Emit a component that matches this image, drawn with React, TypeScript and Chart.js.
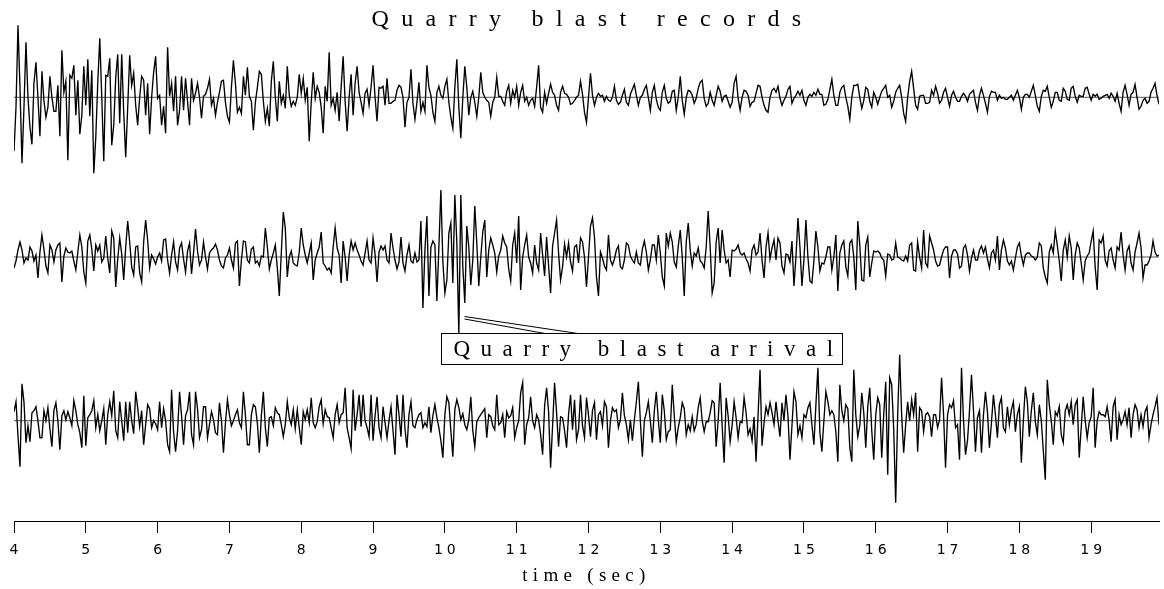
import React, { useEffect, useRef } from 'react';
import { Chart, registerables } from 'chart.js';

Chart.register(...registerables);

// ---- data -------------------------------------------------------------
const START_TIME = 4; // seconds
const SAMPLE_INTERVAL = 1 / 36; // seconds between samples
const TICK_STEP = 1; // seconds between axis ticks
const ARRIVAL_TIME = 10.26; // quarry blast arrival (sec)

const TITLE = 'Quarry blast records';
const X_LABEL = 'time (sec)';
const ANNOTATION = 'Quarry blast arrival';

// vertical position (plot units) of each record's zero line
const TRACE_OFFSETS = [-97.3, -257, -420.7];

const TRACE_1 = [
  -54,-10,72,10,-66,-10,55,0,-30,-47,
  14,35,0,-39,26,-3,-20,-10,21,0,
  -14,-14,12,-39,47,5,16,-63,22,19,
  32,-18,17,-37,-18,31,-8,38,-19,27,
  -76,-40,15,59,0,-64,22,21,39,-48,
  -28,20,43,-26,43,-15,-60,-10,42,12,
  24,-8,-28,0,21,17,-18,14,-37,0,
  25,41,-1,2,-28,-9,-36,50,1,14,
  -14,21,-28,-13,21,-13,19,-4,-28,19,
  -3,4,14,0,-21,1,3,9,18,-8,
  -1,-18,-5,5,16,17,-5,-19,-25,10,
  37,14,-15,-10,-16,21,2,30,1,-4,
  -33,-5,10,26,23,-4,-24,-11,-29,16,
  36,0,-24,16,-6,2,-11,31,2,-9,
  -4,-8,0,23,4,19,-3,10,-44,-5,
  25,-1,11,5,-10,-36,11,-4,45,-8,
  -1,-13,5,-24,10,41,-4,-34,0,23,
  -18,14,31,5,-5,-16,4,8,-8,10,
  32,0,-24,10,9,11,-8,19,-6,-6,
  -4,-3,7,
  12,10,0,-30,-5,0,28,-6,-22,-5,
  15,-14,-5,-14,32,10,2,-15,-24,5,
  11,2,-1,11,18,-5,-20,-31,10,38,
  -10,-41,0,31,10,-18,0,6,-5,-19,
  0,25,5,0,-3,-5,-19,-5,0,20,
  1,1,-4,-8,6,12,-6,7,0,11,
  -8,5,12,-4,0,-8,-3,-1,-9,10,
  32,-10,-15,5,-6,4,13,5,2,-8,
  -13,5,11,4,3,0,-7,-6,-3,0,
  2,16,3,-15,-25,0,24,2,-8,0,
  4,1,2,-4,1,-3,-4,0,11,-3,
  -7,-5,2,8,-5,-8,3,8,13,2,
  -8,0,2,8,12,0,-13,5,12,-2,
  -10,-13,5,12,-1,-6,-4,6,7,-13,
  0,21,-3,-17,0,7,6,2,-6,-1,
  9,15,17,-1,-9,-6,5,-3,-8,2,
  11,6,-4,1,2,-4,-10,-5,14,21,
  -1,-13,0,7,6,2,-9,-5,-4,4,
  12,11,0,-8,-13,-15,0,7,9,5,
  11,-1,-8,-3,1,
  8,11,-6,-1,2,6,2,7,-3,-8,
  0,3,1,5,2,8,3,3,-8,-7,
  -2,8,18,2,-8,-8,5,10,12,0,
  -9,-22,0,12,12,13,0,-11,-3,10,
  8,-4,-10,5,0,-7,0,6,9,12,
  0,2,-10,-4,5,9,12,0,-16,-24,
  0,16,26,9,-8,-12,1,2,2,-6,
  -6,-5,7,2,11,4,-6,-3,5,9,
  0,-9,2,6,0,-4,-4,1,4,1,
  -4,3,5,7,-5,-13,2,9,2,-6,
  -15,1,6,5,5,-3,2,-1,0,-2,
  -2,0,2,-3,2,7,0,-12,0,3,
  3,0,6,12,2,-9,-14,1,7,6,
  11,0,-10,-4,5,5,-3,-4,9,6,
  -2,-3,9,11,1,-5,2,1,1,9,
  10,3,-3,3,1,3,-2,-1,1,2,
  3,-1,4,1,-4,4,-6,-14,5,12,
  3,-8,3,5,13,0,-12,-9,-3,-1,
  -6,-4,5,9,14,2,-7
];

const TRACE_2 = [
  -11,-4,7,15,7,-6,-1,-3,10,6,
  -4,2,-21,5,22,8,-9,-16,12,7,
  -5,7,12,14,-25,1,9,5,4,6,
  -4,-13,5,22,10,-15,-26,16,22,8,
  -14,12,6,12,-5,-1,21,-1,-16,26,
  19,-30,-2,19,3,-23,10,36,15,-10,
  -18,10,11,-16,-25,15,37,17,-11,2,
  -2,-7,0,4,-4,17,18,-3,-16,2,
  15,-5,-13,9,14,-2,-15,6,14,-17,
  4,28,6,-8,-3,15,0,-12,4,7,
  9,13,7,-3,-9,-11,-1,2,9,-3,
  -11,14,16,-29,-3,16,15,-3,-6,8,
  10,-6,-4,-9,1,0,29,10,-12,-3,
  4,12,-11,-39,4,45,29,-20,0,6,
  -6,-8,-9,5,29,12,2,-6,4,14,
  -23,-3,4,10,25,-6,-9,-13,-11,-16,
  10,29,9,2,-26,16,0,-24,2,16,
  7,14,7,2,-4,-8,4,16,-3,-6,
  19,3,-25,5,11,7,11,-3,-6,24,
  9,-3,-12,
  -5,20,-6,-14,2,12,-4,-6,4,-5,
  -3,36,-51,7,41,-39,10,16,12,-44,
  10,67,-5,-36,-23,24,34,-26,62,14,
  -77,62,-10,-46,31,10,-28,-3,51,14,
  -29,0,25,37,-20,7,19,12,4,-15,
  1,7,21,14,10,-12,-24,12,24,-6,
  41,-33,0,12,22,0,-6,-16,12,-6,
  -13,24,2,-19,20,-9,-36,11,24,37,
  4,-23,-10,13,0,14,-5,-14,10,12,
  -6,19,15,0,-30,0,31,39,20,-20,
  -39,5,-1,-9,-13,22,-3,-8,-2,7,
  11,-10,-12,-3,14,12,1,-3,-6,5,
  -6,-8,8,16,5,-13,-3,12,12,-3,
  22,4,-20,-29,24,11,24,15,-5,-10,
  11,27,0,-39,15,34,7,-9,4,1,
  9,-4,-6,-11,10,46,10,-36,-26,15,
  29,-6,27,7,-6,-3,-20,7,6,8,
  12,4,2,4,-2,-6,-14,7,12,2,
  5,24,-3,-21,10,24,-2,9,17,-3,
  19,14,-9,-16,3,
  2,-5,16,-29,0,39,10,-29,-3,37,
  0,-24,-26,-4,26,10,-14,-6,-7,0,
  10,10,-13,0,22,-34,4,12,16,-10,
  -19,14,17,0,-33,36,12,-23,-24,12,
  20,-20,-6,6,5,6,4,-1,-3,-19,
  3,2,-3,-2,14,0,-1,-3,-4,1,
  -4,12,14,-13,-14,15,0,-11,27,-6,
  -10,21,14,7,-4,-9,-8,0,7,10,
  10,-21,1,7,7,3,-11,-9,9,12,
  2,-14,-1,7,-3,-3,7,11,4,10,
  -2,-11,4,7,-3,21,-13,7,17,9,
  -4,-8,-4,-13,-1,10,14,1,-8,2,
  4,4,1,0,-3,0,14,11,-11,-20,
  -26,5,12,4,26,12,-4,-24,7,17,
  0,21,9,-23,2,14,9,-6,-23,-4,
  1,4,16,26,-10,-33,17,14,21,-3,
  -9,6,9,-3,-11,10,7,25,2,-13,
  6,11,-6,-13,5,14,24,9,-21,-8,
  -8,-4,2,16,5,1,2
];

const TRACE_3 = [
  9,19,-15,-46,37,19,-22,-5,-21,8,
  10,14,0,-17,-17,10,0,13,-8,-26,
  10,18,0,-29,5,10,1,9,3,-5,
  20,10,-4,-12,-27,25,-25,3,6,10,
  20,-7,6,-10,0,12,-24,6,19,5,
  30,-10,-17,19,0,-20,19,-12,19,0,
  -13,29,13,-6,10,-24,-4,16,12,-7,
  0,-3,-9,19,-7,12,0,-24,-31,31,
  -11,-31,-10,29,5,-24,5,11,29,-14,
  -24,29,12,-17,-9,14,14,-17,-4,9,
  1,-12,-14,18,0,-32,-2,21,6,-5,
  0,6,11,-2,-7,29,6,-24,-24,6,
  16,14,-2,-32,5,29,-7,-26,3,4,
  -5,13,8,6,-4,-16,-4,19,3,-4,
  11,-8,11,-7,-24,9,1,11,-2,23,
  -2,-7,-1,14,21,-3,11,4,3,-7,
  -17,6,16,-2,6,8,33,-7,-17,-28,
  31,-10,6,26,-6,26,0,-7,-16,26,
  -20,5,24,-7,-17,14,-2,-17,0,14,
  -10,-34,26,
  6,-16,26,-8,-27,6,19,-5,-7,1,
  6,8,-7,-2,-6,14,-12,5,16,3,
  -7,-20,-37,6,24,18,-10,-36,11,21,
  13,1,7,-4,-9,1,24,-10,-26,-1,
  3,6,9,12,-17,6,4,-5,-9,26,
  -4,-2,6,-17,9,3,5,13,-17,-7,
  0,28,38,-24,-4,3,24,0,-7,6,
  1,-14,-34,15,33,9,-47,-5,38,8,
  -26,4,3,-10,-27,6,26,-9,21,-19,
  -9,26,-5,-17,23,6,-16,10,18,-19,
  6,9,-5,19,14,-27,0,13,9,11,
  -7,1,28,5,-4,-19,1,-20,1,19,
  39,0,-36,0,8,19,0,-22,10,29,
  1,-22,26,10,-19,-11,-9,36,5,-21,
  -7,3,18,12,-14,-4,-10,4,-10,-4,
  13,23,0,-11,-1,-1,8,20,18,-26,
  0,38,-5,-42,23,5,-21,-5,19,3,
  -17,-1,-2,23,8,-14,-8,-20,4,-41,
  5,51,-25,-2,14,6,18,8,-4,19,
  0,-16,18,0,26,
  5,-39,-5,29,19,-14,-5,-17,6,3,
  13,18,-4,-24,16,53,-12,-31,0,29,
  19,6,10,6,-11,-41,36,10,0,16,
  12,-27,-41,51,6,-16,-5,28,8,-27,
  14,33,-10,-39,6,23,16,-37,6,39,
  -54,43,36,-8,-82,6,66,5,-32,-4,
  19,0,21,6,28,-31,13,10,-11,6,
  8,4,-16,6,6,-7,1,43,6,-47,
  6,16,13,20,-7,-4,-39,53,0,-34,
  -20,10,46,10,-31,3,10,-32,6,29,
  9,-27,-2,26,6,-17,16,23,-7,-11,
  14,-4,11,19,-11,6,14,-42,0,34,
  19,-16,10,28,-1,-14,16,0,-30,-59,
  41,16,0,-24,9,5,14,-14,-22,10,
  16,6,19,-4,16,21,-37,-7,24,0,
  -17,-2,4,33,-27,0,9,6,6,4,
  14,0,-21,14,21,-19,6,-4,1,9,
  -4,13,-17,6,16,11,-7,6,-6,9,
  14,-17,-4,6,14,23,-4
];

const TRACES = [TRACE_1, TRACE_2, TRACE_3];

// ---- chart ------------------------------------------------------------
const END_TIME = START_TIME + (TRACE_1.length - 1) * SAMPLE_INTERVAL;

const toPoints = (values: number[], offset: number) =>
  values.map((v, i) => ({ x: START_TIME + i * SAMPLE_INTERVAL, y: offset + v }));

const setSpacing = (ctx: any, s: string) => {
  ctx.letterSpacing = s;
};

const decorPlugin = {
  id: 'decor',
  beforeDraw(chart: any) {
    setSpacing(chart.ctx, '5.3px'); // axis title
  },
  beforeDatasetsDraw(chart: any) {
    setSpacing(chart.ctx, '0px');
  },
  afterDatasetsDraw(chart: any) {
    setSpacing(chart.ctx, '4px'); // tick labels
  },
  afterDraw(chart: any) {
    const ctx = chart.ctx;
    const xs = chart.scales.x;
    const area = chart.chartArea;
    const cx = (area.left + area.right) / 2;
    ctx.save();
    ctx.fillStyle = '#000';
    ctx.strokeStyle = '#000';
    ctx.textAlign = 'center';
    ctx.textBaseline = 'alphabetic';

    // title
    setSpacing(ctx, '12.3px');
    ctx.font = '24px "Liberation Serif"';
    ctx.fillText(TITLE, cx + 6, 26);

    // annotation box
    setSpacing(ctx, '0px');
    ctx.lineWidth = 1;
    ctx.strokeRect(441.5, 333.5, 401, 31);
    setSpacing(ctx, '10.5px');
    ctx.font = '23px "Liberation Serif"';
    ctx.fillText(ANNOTATION, 643.5 + 5, 356);
    setSpacing(ctx, '0px');

    // pointer lines from the arrival to the box
    const px = xs.getPixelForValue(ARRIVAL_TIME);
    ctx.lineWidth = 1;
    ctx.beginPath();
    ctx.moveTo(px + 1, 319);
    ctx.lineTo(545, 333.5);
    ctx.moveTo(px + 1, 316.5);
    ctx.lineTo(578, 333.5);
    ctx.stroke();
    ctx.restore();
    setSpacing(ctx, '0px');
  },
};

export default function App() {
  const canvasRef = useRef<HTMLCanvasElement | null>(null);

  useEffect(() => {
    const canvas = canvasRef.current;
    if (!canvas) return;

    const traceSets = TRACES.map((vals, k) => ({
      label: `record ${k + 1}`,
      data: toPoints(vals, TRACE_OFFSETS[k]),
      borderColor: '#000',
      borderWidth: 1.35,
      pointRadius: 0,
      tension: 0,
      fill: false,
    }));
    const zeroSets = TRACE_OFFSETS.map((off, k) => ({
      label: `zero ${k + 1}`,
      data: [
        { x: START_TIME, y: off },
        { x: END_TIME, y: off },
      ],
      borderColor: '#555',
      borderWidth: 1,
      pointRadius: 0,
      fill: false,
    }));

    const chart = new Chart(canvas, {
      type: 'line',
      data: { datasets: [...traceSets, ...zeroSets] as any },
      options: {
        responsive: false,
        animation: false,
        devicePixelRatio: 1,
        parsing: false as any,
        normalized: true,
        events: [],
        layout: { padding: { left: 14, right: 5, top: 0, bottom: 0 } },
        plugins: {
          legend: { display: false },
          title: { display: false },
          tooltip: { enabled: false },
        },
        scales: {
          x: {
            type: 'linear',
            min: START_TIME,
            max: END_TIME,
            afterFit: (scale: any) => {
              scale.height = 68;
            },
            border: { display: true, color: '#000', width: 1 },
            grid: {
              display: true,
              drawOnChartArea: false,
              drawTicks: true,
              tickLength: 12,
              color: '#000',
              lineWidth: 1,
            },
            ticks: {
              stepSize: TICK_STEP,
              includeBounds: false,
              autoSkip: false,
              maxRotation: 0,
              padding: 9,
              color: '#000',
              labelOffset: 2,
              z: 1,
              font: { family: 'DejaVu Sans', size: 14 },
              callback: (v: any) => String(v),
            },
            title: {
              display: true,
              text: X_LABEL,
              color: '#000',
              font: { family: 'Liberation Serif', size: 19 },
              padding: { top: 0, bottom: 2 },
            },
          },
          y: {
            display: false,
            min: -521,
            max: 0,
          },
        },
      } as any,
      plugins: [decorPlugin],
    });

    return () => chart.destroy();
  }, []);

  return (
    <div style={{ position: 'fixed', left: 0, top: 0, width: 1164, height: 589, background: '#fff' }}>
      <canvas ref={canvasRef} width={1164} height={589} style={{ display: 'block', width: 1164, height: 589 }} />
    </div>
  );
}
